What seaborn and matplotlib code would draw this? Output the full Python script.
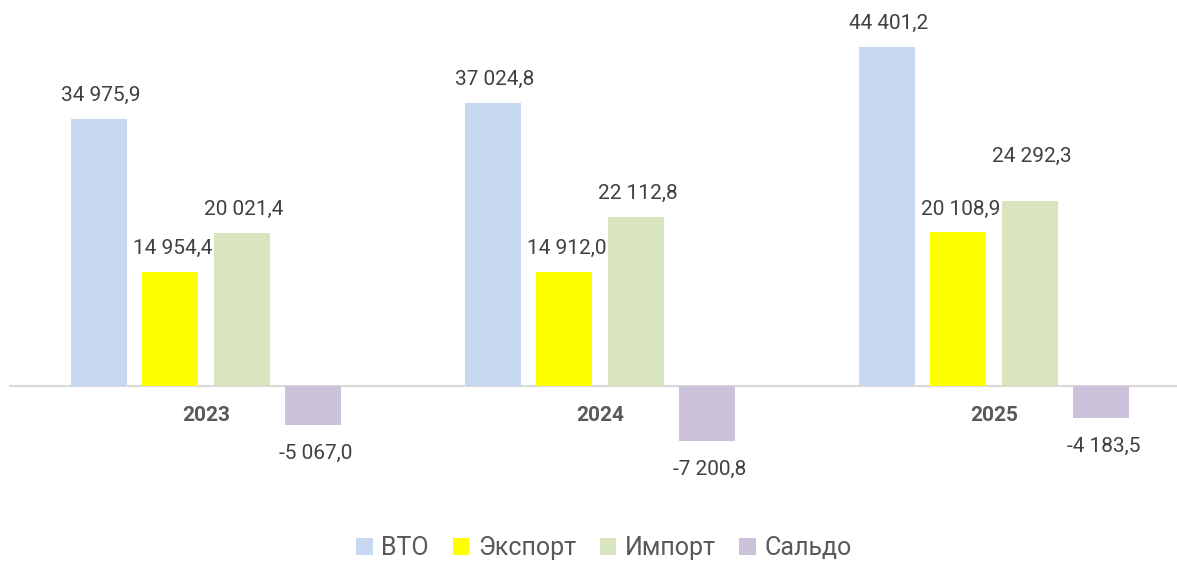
import pandas as pd
import matplotlib.pyplot as plt
import seaborn as sns

# Данные
years = ['2023', '2024', '2025']
series = ['ВТО', 'Экспорт', 'Импорт', 'Сальдо']
vto = [34975.9, 37024.8, 44401.2]
export = [14954.4, 14912.0, 20108.9]
imports = [20021.4, 22112.8, 24292.3]
saldo = [-5067.0, -7200.8, -4183.5]
colors = ['#C6D9F0', '#FFFF00', '#D7E4BD', '#CCC1DA']

df = pd.DataFrame({
    'Год': years * 4,
    'Показатель': [s for s in series for _ in years],
    'Значение': vto + export + imports + saldo,
})

sns.set_style('white')
plt.rcParams['font.family'] = ['Roboto', 'DejaVu Sans']

fig = plt.figure(figsize=(11.77, 5.62), dpi=100)
ax = fig.add_axes([9 / 1177, 0, 1168 / 1177, 1])

sns.barplot(data=df, x='Год', y='Значение', hue='Показатель', order=years, hue_order=series,
            palette=colors, saturation=1, width=0.726, gap=0.217, errorbar=None,
            linewidth=0, ax=ax)

ax.set_xlim(-0.5, 2.4645)
ax.set_ylim(-23052, 50557)
ax.axhline(0, color='#D9D9D9', linewidth=1.5, zorder=0)
for s in ax.spines.values():
    s.set_visible(False)
ax.set_xticks([])
ax.set_yticks([])
ax.set_xlabel('')
ax.set_ylabel('')


def fmt(v):
    return f'{v:,.1f}'.replace(',', ' ').replace('.', ',')


# ручной сдвиг подписи (как в оригинале)
nudge = {('2025', 'Импорт'): 15}

for cont, name in zip(ax.containers, series):
    for bar, yr in zip(cont, years):
        h = bar.get_height()
        x = bar.get_x() + bar.get_width() / 2
        if h >= 0:
            ax.annotate(fmt(h), (x, h), xytext=(1.5, 13 + nudge.get((yr, name), 0)),
                        textcoords='offset points', ha='center', va='baseline',
                        fontsize=15, color='#404040')
        else:
            ax.annotate(fmt(h), (x, h), xytext=(1.5, -13.5),
                        textcoords='offset points', ha='center', va='top',
                        fontsize=15, color='#404040')

for i, yr in enumerate(years):
    ax.annotate(yr, (i, 0), xytext=(0, -21.5), textcoords='offset points',
                ha='center', va='center', fontsize=15, fontweight='bold', color='#595959')

handles, labels = ax.get_legend_handles_labels()
ax.get_legend().remove()
fig.legend(handles, labels, loc='center', bbox_to_anchor=(604 / 1177, 0.025), ncol=4,
           frameon=False, fontsize=18, handlelength=0.65, handleheight=0.65,
           handletextpad=0.35, columnspacing=0.95, labelcolor='#595959')

plt.savefig('out.png', dpi=100)
